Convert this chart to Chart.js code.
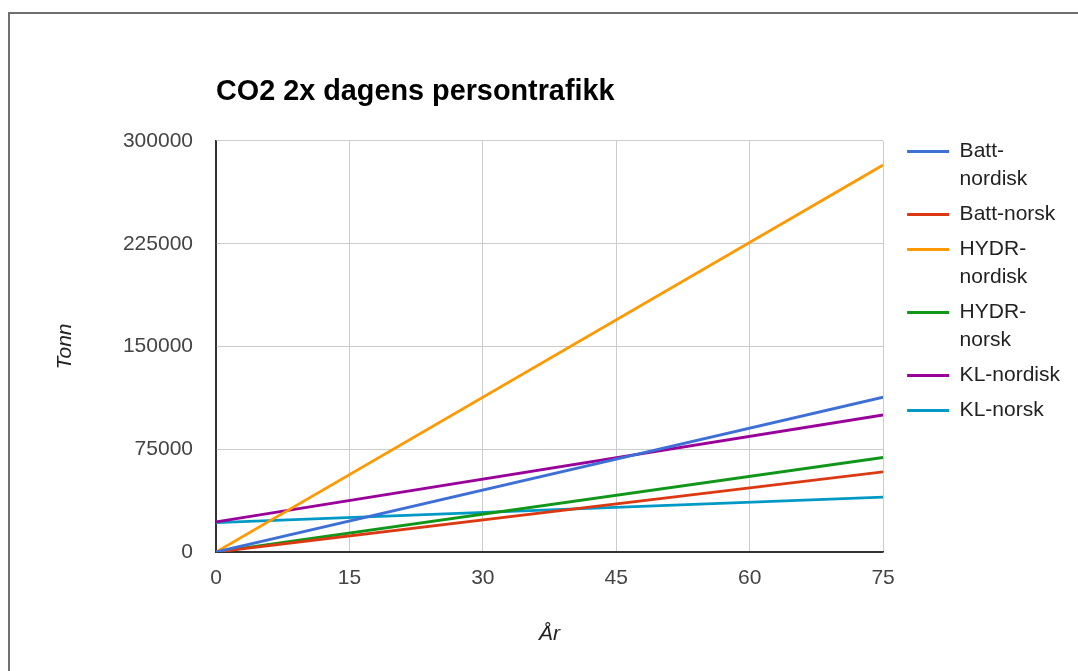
<!DOCTYPE html>
<html>
<head>
<meta charset="utf-8">
<title>CO2 2x dagens persontrafikk</title>
<script src="https://cdn.jsdelivr.net/npm/chart.js@4/dist/chart.umd.min.js"></script>
<style>
  html, body { margin: 0; padding: 0; background: #fff; }
  #wrap { position: relative; width: 1078px; height: 671px; overflow: hidden; }
  #frame {
    position: absolute; left: 8px; top: 12px; width: 1200px; height: 800px;
    border-top: 2px solid #707070; border-left: 2px solid #707070;
  }
  #chart { position: absolute; left: 0; top: 0; }
</style>
</head>
<body>
<div id="wrap">
  <div id="frame"></div>
  <canvas id="chart" width="1078" height="671"></canvas>
</div>
<script>
// Years on the x axis (start and end of the period)
const years = [0, 75];

// Accumulated CO2 in tonnes per scenario
const battNordisk = [0, 113000];
const battNorsk   = [0, 58500];
const hydrNordisk = [0, 282500];
const hydrNorsk   = [0, 69000];
const klNordisk   = [22000, 100000];
const klNorsk     = [21500, 40000];

// Axis ticks
const xTicks = [0, 15, 30, 45, 60, 75];
const yTicks = [0, 75000, 150000, 225000, 300000];

// Series names, as they wrap in the legend
const legendLines = [
  ['Batt-', 'nordisk'],
  ['Batt-norsk'],
  ['HYDR-', 'nordisk'],
  ['HYDR-', 'norsk'],
  ['KL-nordisk'],
  ['KL-norsk']
];
const seriesValues = [battNordisk, battNorsk, hydrNordisk, hydrNorsk, klNordisk, klNorsk];
const seriesColors = ['#3d6fd6', '#dc3912', '#ff9900', '#109618', '#990099', '#0099c6'];

Chart.defaults.font.family = "'Liberation Sans', Arial, sans-serif";
Chart.defaults.color = '#444';

const datasets = seriesValues.map((vals, i) => ({
  label: legendLines[i].join(''),
  data: years.map((x, j) => ({ x: x, y: vals[j] })),
  borderColor: seriesColors[i],
  backgroundColor: seriesColors[i],
  borderWidth: 2.8,
  pointRadius: 0,
  tension: 0
}));

// Moves the legend block a little right of and above its default slot
const legendNudge = {
  id: 'legendNudge',
  afterLayout(chart) {
    const lg = chart.legend;
    if (!lg) return;
    lg.left += 17; lg.right += 17;
    lg.top -= 7; lg.bottom -= 7;
  }
};

new Chart(document.getElementById('chart'), {
  type: 'line',
  data: { datasets },
  plugins: [legendNudge],
  options: {
    responsive: false,
    animation: false,
    events: [],
    layout: { padding: { left: 20, right: 25, top: 0, bottom: 0 } },
    plugins: {
      tooltip: { enabled: false },
      title: {
        display: true,
        text: 'CO2 2x dagens persontrafikk',
        align: 'start',
        fullSize: false,
        color: '#000',
        font: { size: 28.8, weight: 'bold' },
        padding: { top: 75.2, bottom: 31.2 }
      },
      legend: {
        position: 'right',
        align: 'start',
        fullSize: false,
        labels: {
          color: '#222',
          font: { size: 21, lineHeight: 1.3333 },
          boxWidth: 42,
          boxHeight: 3,
          padding: 7,
          generateLabels(chart) {
            const items = Chart.defaults.plugins.legend.labels.generateLabels(chart);
            items.forEach((it, i) => {
              it.text = legendLines[i];
              it.lineWidth = 0;
            });
            return items;
          }
        }
      }
    },
    scales: {
      x: {
        type: 'linear',
        min: xTicks[0],
        max: xTicks[xTicks.length - 1],
        afterBuildTicks(scale) { scale.ticks = xTicks.map(v => ({ value: v })); },
        afterFit(scale) { scale.height = 119; },
        ticks: {
          padding: 14,
          color: '#444',
          font: { size: 21 },
          maxRotation: 0,
          callback: v => String(v)
        },
        grid: {
          drawTicks: false,
          color: ctx => (ctx.tick && ctx.tick.value === 0) ? '#333' : '#cccccc',
          lineWidth: 1
        },
        border: { display: true, color: '#333', width: 1.5 },
        title: {
          display: true,
          text: 'År',
          color: '#222',
          font: { size: 21, style: 'italic' },
          padding: { top: 0, bottom: 24.4 }
        }
      },
      y: {
        type: 'linear',
        min: yTicks[0],
        max: yTicks[yTicks.length - 1],
        afterBuildTicks(scale) { scale.ticks = yTicks.map(v => ({ value: v })); },
        afterFit(scale) { scale.width = 196; },
        ticks: {
          padding: 23,
          color: '#444',
          font: { size: 21 },
          callback: v => String(v)
        },
        grid: {
          drawTicks: false,
          color: ctx => (ctx.tick && ctx.tick.value === 0) ? '#333' : '#cccccc',
          lineWidth: 1
        },
        border: { display: true, color: '#333', width: 1.5 },
        title: {
          display: true,
          text: 'Tonn',
          color: '#222',
          font: { size: 21, style: 'italic' },
          padding: { top: 32.4, bottom: 0 }
        }
      }
    }
  }
});
</script>
</body>
</html>
